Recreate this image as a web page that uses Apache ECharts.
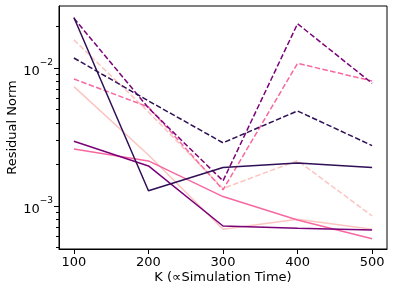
<!DOCTYPE html>
<html>
<head>
<meta charset="utf-8">
<script src="https://cdn.jsdelivr.net/npm/echarts@6/dist/echarts.min.js"></script>
<style>html,body{margin:0;padding:0;background:#fff}#c{width:394px;height:292px}</style>
</head>
<body>
<div id="c"></div>
<script>
const kValues = [100, 200, 300, 400, 500];
const darkSolid   = [0.0232, 0.00129, 0.00190, 0.00205, 0.00190];
const darkDashed  = [0.0118, 0.00577, 0.00287, 0.00488, 0.00274];
const purpleSolid = [0.00294, 0.00195, 0.000716, 0.000689, 0.00067];
const purpleDashed= [0.0229, 0.00513, 0.00152, 0.0209, 0.00774];
const pinkSolid   = [0.00259, 0.00212, 0.00117, 0.000792, 0.000579];
const pinkDashed  = [0.00832, 0.00521, 0.00131, 0.0108, 0.00805];
const lightSolid  = [0.00732, 0.00234, 0.000678, 0.000802, 0.000678];
const lightDashed = [0.01596, 0.0048, 0.00134, 0.00213, 0.000848];
const xTicks = [100, 200, 300, 400, 500];
const yMajorTicks = [0.001, 0.01];
const yMinorTicks = [0.0005, 0.0006, 0.0007, 0.0008, 0.0009, 0.002, 0.003, 0.004, 0.005, 0.006, 0.007, 0.008, 0.009, 0.02];

const FONT = 'DejaVu Sans';
function mk(name, vals, color, dashed) {
  return {
    name: name, type: 'line', yAxisIndex: 0, symbol: 'none', silent: true,
    data: kValues.map((k, i) => [k, vals[i]]),
    lineStyle: { color: color, width: 1.5, type: dashed ? [5.5, 2.4] : 'solid' }
  };
}
const chart = echarts.init(document.getElementById('c'), null, { renderer: 'canvas' });
chart.setOption({
  animation: false,
  grid: { left: 59, right: 7, top: 6, bottom: 43, containLabel: false, outerBoundsMode: 'none', show: true, borderColor: '#000', borderWidth: 1, backgroundColor: 'transparent' },
  xAxis: {
    type: 'value', min: 80, max: 520,
    name: 'K (\u221dSimulation Time)', nameLocation: 'middle', nameGap: 22, nameMoveOverlap: false,
    nameTextStyle: { fontFamily: FONT, fontSize: 13, color: '#000' },
    axisLine: { lineStyle: { color: '#000', width: 1 } },
    axisTick: { length: 5, lineStyle: { color: '#000' }, customValues: xTicks },
    axisLabel: { customValues: xTicks, fontFamily: FONT, fontSize: 13, color: '#000', margin: 7 },
    splitLine: { show: false }
  },
  yAxis: [{
    type: 'log', logBase: 10, min: 0.000488, max: 0.0281, position: 'left',
    name: 'Residual Norm', nameLocation: 'middle', nameGap: 40, nameMoveOverlap: false,
    nameTextStyle: { fontFamily: FONT, fontSize: 13, color: '#000' },
    axisLine: { show: true, lineStyle: { color: '#000', width: 1 } },
    axisTick: { show: true, length: 5, lineStyle: { color: '#000' }, customValues: yMajorTicks },
    axisLabel: {
      customValues: yMajorTicks, margin: 6, color: '#000',
      formatter: function (v) {
        const e = Math.round(Math.log10(v));
        return '{b|10}{s|\u2212' + Math.abs(e) + '}';
      },
      rich: {
        b: { fontFamily: FONT, fontSize: 13, color: '#000', lineHeight: 20, verticalAlign: 'bottom' },
        s: { fontFamily: FONT, fontSize: 9, color: '#000', lineHeight: 20, verticalAlign: 'top' }
      }
    },
    splitLine: { show: false }
  }, {
    type: 'log', logBase: 10, min: 0.000488, max: 0.0281, position: 'left', offset: 0,
    axisLine: { show: false },
    axisTick: { show: true, length: 3, lineStyle: { color: '#000' }, customValues: yMinorTicks },
    axisLabel: { show: false },
    splitLine: { show: false }
  }],
  series: [
    mk('lightSolid', lightSolid, '#fcc5c0', false),
    mk('lightDashed', lightDashed, '#fcc5c0', true),
    mk('pinkSolid', pinkSolid, '#f768a1', false),
    mk('pinkDashed', pinkDashed, '#f768a1', true),
    mk('purpleSolid', purpleSolid, '#7a0177', false),
    mk('purpleDashed', purpleDashed, '#7a0177', true),
    mk('darkSolid', darkSolid, '#2f0f55', false),
    mk('darkDashed', darkDashed, '#2f0f55', true)
  ]
});
</script>
</body>
</html>
